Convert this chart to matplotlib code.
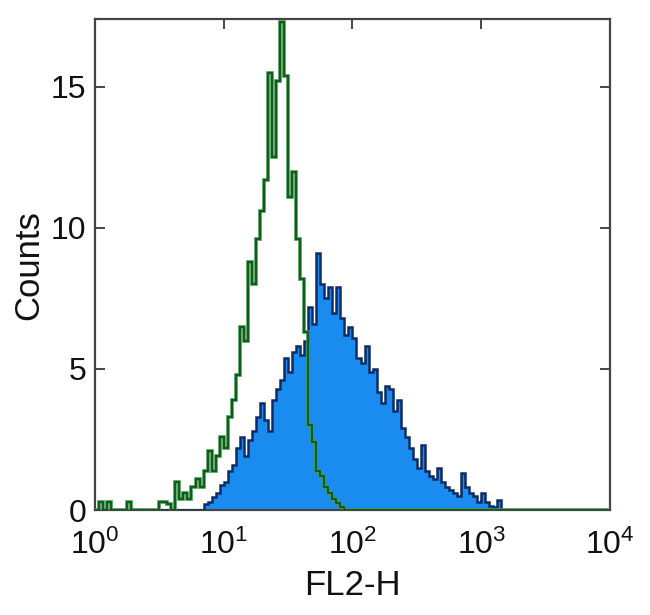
import numpy as np
import matplotlib
matplotlib.use("Agg")
import matplotlib.pyplot as plt

plt.rcParams['font.family'] = ['Liberation Sans', 'DejaVu Sans']

# 128 log-spaced channels over 10^0 .. 10^4
n_channels = 128
x_min_exp, x_max_exp = 0, 4

# Isotype control (green outline), channels 0..61
green_counts = [0, 0.3, 0, 0.3, 0, 0, 0, 0, 0.3, 0,
                0, 0, 0, 0, 0, 0, 0.3, 0.3, 0.2, 0,
                1.0, 0.4, 0.6, 0.4, 0.8, 1.1, 0.8, 1.4, 2.1, 1.4,
                1.9, 2.6, 2.2, 3.3, 3.9, 4.8, 6.5, 6.0, 8.8, 8.0,
                9.6, 10.6, 11.7, 15.5, 12.5, 15.2, 17.3, 15.4, 11.1, 12.0,
                9.6, 8.2, 6.3, 3.0, 2.4, 1.4, 1.2, 0.8, 0.6, 0.4,
                0.25, 0.1]
green_start = 0

# Stained sample (blue filled), channels 27..101
blue_counts = [0.2, 0.3, 0.45, 0.6, 0.9, 1.0, 1.4, 1.6, 2.2, 2.6,
               1.9, 2.5, 2.8, 3.3, 3.8, 3.2, 2.8, 3.9, 4.3, 4.6,
               5.4, 4.9, 5.6, 5.8, 5.5, 6.0, 7.2, 6.6, 9.1, 8.0,
               7.5, 7.9, 7.0, 7.9, 6.8, 6.2, 6.5, 6.1, 5.4, 5.2,
               5.8, 4.9, 5.0, 4.2, 3.8, 4.4, 4.3, 3.5, 3.9, 2.9,
               2.6, 2.2, 1.8, 1.5, 2.3, 1.4, 1.2, 1.1, 1.5, 1.0,
               0.8, 0.7, 0.6, 0.5, 1.3, 0.8, 0.6, 0.5, 0.3, 0.6,
               0.3, 0.15, 0.1, 0.35, 0]
blue_start = 27

x_ticks = [1, 10, 100, 1000, 10000]
y_ticks = [0, 5, 10, 15]
x_label = "FL2-H"
y_label = "Counts"

edges = np.logspace(x_min_exp, x_max_exp, n_channels + 1)
green = np.zeros(n_channels)
green[green_start:green_start + len(green_counts)] = green_counts
blue = np.zeros(n_channels)
blue[blue_start:blue_start + len(blue_counts)] = blue_counts

fig = plt.figure(figsize=(6.5, 6.15), dpi=100)
ax = fig.add_axes([0.146, 0.1707, 0.7925, 0.798])

ax.stairs(blue, edges, fill=True, color='#1a8cf0', zorder=2)
ax.stairs(blue, edges, color='#0d2c66', linewidth=1.8, zorder=3)
ax.stairs(green, edges, color='#3f9a4c', linewidth=2.6, zorder=4)
ax.stairs(green, edges, color='#0c4f18', linewidth=1.2, zorder=5)

ax.set_xscale('log')
ax.set_xlim(1, 10000)
ax.set_ylim(0, 17.4)
ax.set_xticks(x_ticks)
ax.set_yticks(y_ticks)
ax.xaxis.set_minor_locator(matplotlib.ticker.NullLocator())

for s in ax.spines.values():
    s.set_color('#444444')
    s.set_linewidth(1.6)

ax.tick_params(axis='both', which='major', direction='in', length=7,
               width=1.4, color='#444444', labelsize=23, top=True,
               right=True, labelcolor='#111111')
ax.tick_params(axis='x', pad=14)
ax.tick_params(axis='y', pad=6)

ax.set_xlabel(x_label, fontsize=25, color='#111111', labelpad=6)
ax.set_ylabel(y_label, fontsize=25, color='#111111', labelpad=4)

fig.savefig('out.png', dpi=100, facecolor='white')
